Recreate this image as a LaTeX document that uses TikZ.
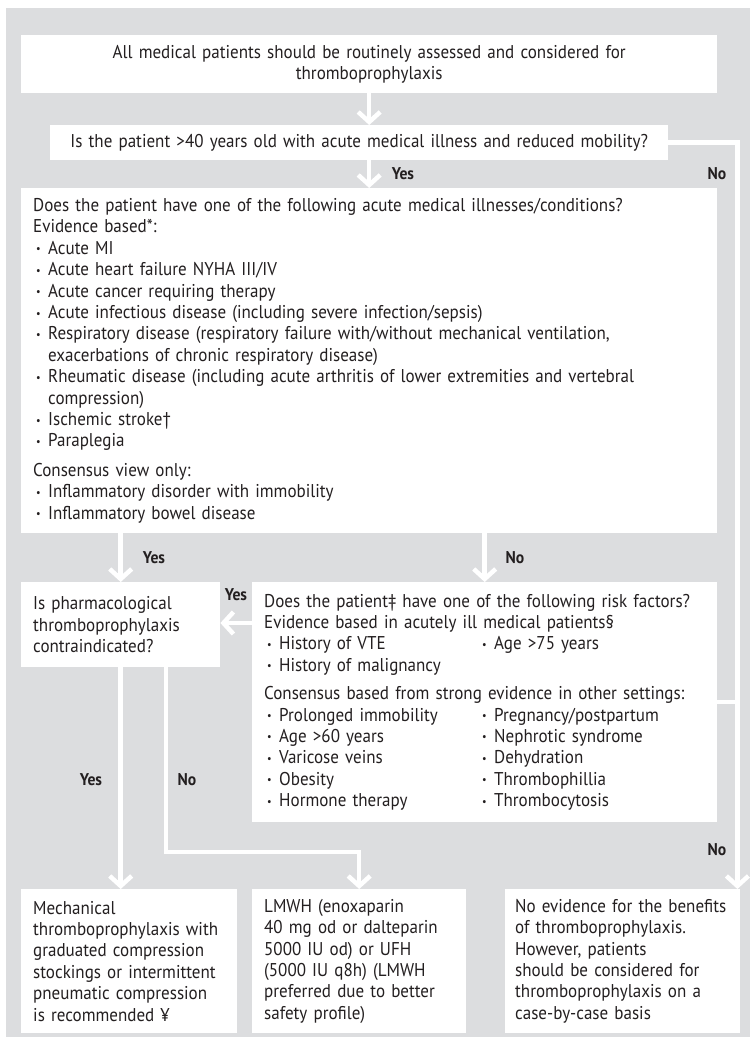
\documentclass[tikz,border=0pt]{standalone}
\usepackage{fontspec}
\setmainfont{PT Sans}[FakeStretch=0.92]
\usetikzlibrary{arrows.meta, positioning}

\definecolor{panel}{HTML}{DCDDDF}
\definecolor{ink}{HTML}{231F20}

\newcommand{\bodyfont}{\fontsize{18.5}{21.4}\selectfont\hyphenpenalty=10000}
\newcommand{\ansfont}{\fontsize{17}{20}\selectfont\bfseries}
\newcommand{\dotmark}{\makebox[15pt][l]{\hspace{3pt}\raisebox{1.5pt}{\fontsize{11}{11}\selectfont\textbullet}}}
\newcommand{\bul}[1]{\par\noindent\hangindent=15pt\hangafter=1\dotmark#1}
\newcommand{\bulpair}[2]{\par\noindent\makebox[215pt][l]{\dotmark#1}\dotmark#2}

\begin{document}
\begin{tikzpicture}[x=1pt, y=-1pt,
    box/.style={fill=white, inner xsep=12pt, inner ysep=0pt, anchor=north west,
                align=left, text=ink, font=\bodyfont},
    link/.style={draw=white, line width=4.5pt,
                 -{Straight Barb[length=10pt, width=22pt]}},
    wire/.style={draw=white, line width=4.5pt},
    ans/.style={text=ink, font=\ansfont, inner sep=0pt}]
  \useasboundingbox (0,0) rectangle (750,1049);
  \fill[panel] (6,8) rectangle (750,1037);
  % Questions
  \node[box, align=center, text width=672pt, minimum height=58pt] (start) at (21,35)
    {All medical patients should be routinely assessed and considered for\\thromboprophylaxis};
  \node[box, align=center, text width=594pt, minimum height=35pt] (age) at (50,125)
    {Is the patient >40 years old with acute medical illness and reduced mobility?};
  \node[box, text width=672pt, minimum height=345pt] (illness) at (21,188)
    {Does the patient have one of the following acute medical illnesses/conditions?\newline
     Evidence based*:
     \bul{Acute MI}
     \bul{Acute heart failure NYHA III/IV}
     \bul{Acute cancer requiring therapy}
     \bul{Acute infectious disease (including severe infection/sepsis)}
     \bul{Respiratory disease (respiratory failure with/without mechanical ventilation,\newline
          exacerbations of chronic respiratory disease)}
     \bul{Rheumatic disease (including acute arthritis of lower extremities and vertebral\newline
          compression)}
     \bul{Ischemic stroke†}
     \bul{Paraplegia}
     \par\vspace{8pt}\noindent Consensus view only:
     \bul{Inflammatory disorder with immobility}
     \bul{Inflammatory bowel disease}};
  \node[box, text width=175pt, minimum height=85pt] (contra) at (21,582)
    {Is pharmacological\newline thromboprophylaxis\newline contraindicated?};
  \node[box, text width=441pt, minimum height=240pt] (risk) at (252,582)
    {Does the patient‡ have one of the following risk factors?\newline
     Evidence based in acutely ill medical patients§
     \bulpair{History of VTE}{Age >75 years}
     \bul{History of malignancy}
     \par\vspace{7pt}\noindent Consensus based from strong evidence in other settings:
     \bulpair{Prolonged immobility}{Pregnancy/postpartum}
     \bulpair{Age >60 years}{Nephrotic syndrome}
     \bulpair{Varicose veins}{Dehydration}
     \bulpair{Obesity}{Thrombophillia}
     \bulpair{Hormone therapy}{Thrombocytosis}};
  % Outcomes
  \node[box, text width=192pt, minimum height=144pt] (mech) at (21,889)
    {Mechanical\newline thromboprophylaxis with\newline graduated compression\newline
     stockings or intermittent\newline pneumatic compression\newline is recommended ¥};
  \node[box, text width=190pt, minimum height=144pt] (lmwh) at (252,889)
    {LMWH (enoxaparin\newline 40 mg od or dalteparin\newline 5000 IU od) or UFH\newline
     (5000 IU q8h) (LMWH\newline preferred due to better\newline safety profile)};
  \node[box, inner xsep=10pt, text width=214.5pt, minimum height=144pt] (nobox) at (505,889)
    {No evidence for the benefits\newline of thromboprophylaxis.\newline However, patients\newline
     should be considered for\newline thromboprophylaxis on a\newline case-by-case basis};
  % Answers
  \node[ans] (yes1) at (403,174) {Yes};
  \node[ans] (no1) at (717,174) {No};
  \node[ans] (yes2) at (154,558) {Yes};
  \node[ans] (no2) at (515,558) {No};
  \node[ans] (yes3) at (236,595) {Yes};
  \node[ans] (yes4) at (91,780) {Yes};
  \node[ans] (no3) at (187,780) {No};
  \node[ans] (no4) at (717,850) {No};
  % Arrows
  \draw[link] (start.south) -- (start.south |- age.north);
  \draw[link] (start.south |- age.south) -- (start.south |- illness.north);
  \draw[link] (age.east) -| ([xshift=-2.5pt]nobox.north east);
  \draw[wire] ([yshift=-120pt]risk.north east) -- ++(20pt,0);
  \draw[link] (contra.north |- illness.south) -- (contra.north);
  \draw[link] (risk.north |- illness.south) -- (risk.north);
  \draw[link] ([yshift=-41pt]risk.north west) -- ([yshift=-41pt]contra.north east);
  \draw[link] (contra.south) -- (contra.south |- mech.north);
  \draw[link] ([xshift=145pt]contra.south west) |- ([yshift=37pt]lmwh.north) -- (lmwh.north);
\end{tikzpicture}
\end{document}
